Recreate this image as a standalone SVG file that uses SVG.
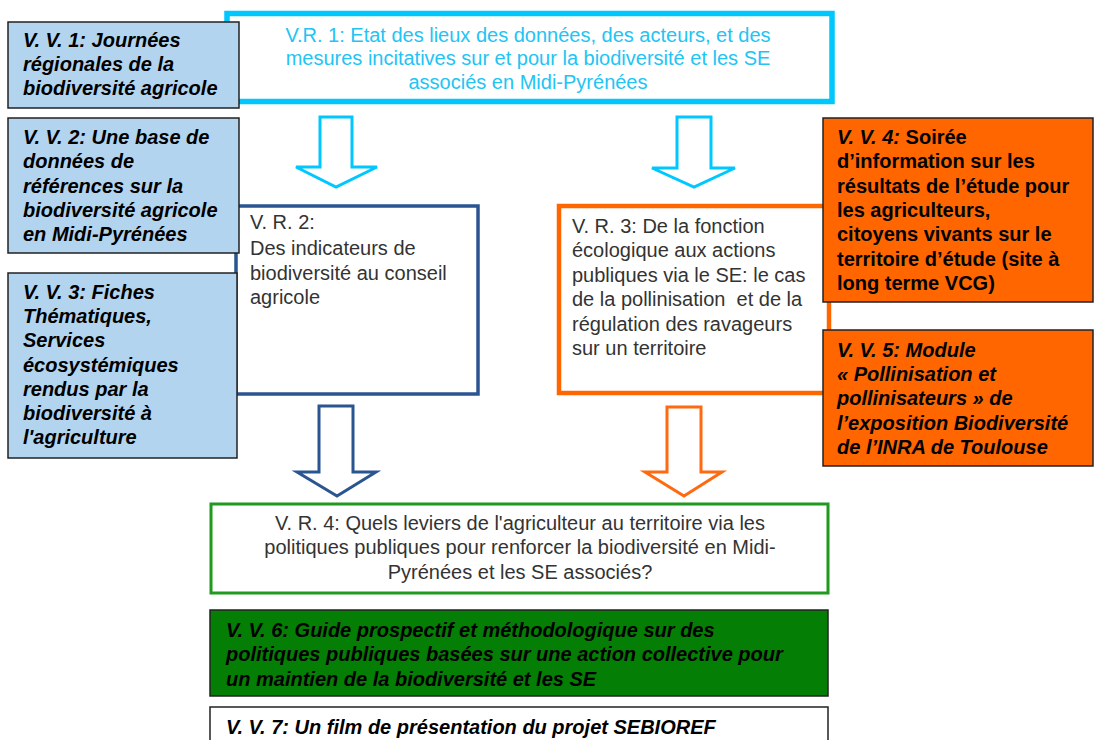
<svg xmlns="http://www.w3.org/2000/svg" width="1099" height="740" viewBox="0 0 1099 740">
<style>
text{font-family:"Liberation Sans",Arial,sans-serif;font-size:20px}
.vv{font-weight:bold;font-style:italic;fill:#000}
.vb{font-weight:bold;fill:#000}
.reg{fill:#333}
.cy{fill:#22C4F4}
.blue{fill:#B3D4EE;stroke:#222;stroke-width:1.5}
.orng{fill:#FF6600;stroke:#222;stroke-width:1.5}
.arr{fill:#fff;stroke-width:3;stroke-linejoin:miter}
</style>
<rect width="1099" height="740" fill="#fff"/>
<g id="connectors">
<path class="arr" stroke="#00C8FF" d="M320,117H352V167H377L336,187L296,167H320Z"/>
<path class="arr" stroke="#00C8FF" d="M677,117H711V168H735L694,187L652,168H677Z"/>
<path class="arr" stroke="#2B5590" d="M319,406H353V472H376L337,496L297,472H319Z"/>
<path class="arr" stroke="#FF6A10" d="M667,407H701V472H722L684,496L645,472H667Z"/>
</g>
<g id="vr1">
<rect x="227" y="13.5" width="605" height="88" fill="#fff" stroke="#00C8FF" stroke-width="5.5"/>
<text class="cy" text-anchor="middle"><tspan x="528" y="42">V.R. 1: Etat des lieux des données, des acteurs, et des</tspan><tspan x="528" y="65">mesures incitatives sur et pour la biodiversité et les SE</tspan><tspan x="528" y="89">associés en Midi-Pyrénées</tspan></text>
</g>
<g id="vr2">
<rect x="236" y="206" width="242" height="188" fill="#fff" stroke="#2B5590" stroke-width="3.5"/>
<text class="reg"><tspan x="250" y="229">V. R. 2:</tspan><tspan x="250" y="255">Des indicateurs de</tspan><tspan x="250" y="280">biodiversité au conseil</tspan><tspan x="250" y="304">agricole</tspan></text>
</g>
<g id="vr3">
<rect x="559" y="206" width="270" height="187" fill="#fff" stroke="#FF6600" stroke-width="4.5"/>
<text class="reg"><tspan x="572" y="233">V. R. 3: De la fonction</tspan><tspan x="572" y="257">écologique aux actions</tspan><tspan x="572" y="282">publiques via le SE: le cas</tspan><tspan x="572" y="306" xml:space="preserve">de la pollinisation  et de la</tspan><tspan x="572" y="331">régulation des ravageurs</tspan><tspan x="572" y="355">sur un territoire</tspan></text>
</g>
<g id="vv1">
<rect class="blue" x="8" y="22" width="231" height="86"/>
<text class="vv"><tspan x="23" y="47">V. V. 1: Journées</tspan><tspan x="23" y="71">régionales de la</tspan><tspan x="23" y="95">biodiversité agricole</tspan></text>
</g>
<g id="vv2">
<rect class="blue" x="8" y="118" width="231" height="135"/>
<text class="vv"><tspan x="23" y="144">V. V. 2: Une base de</tspan><tspan x="23" y="168">données de</tspan><tspan x="23" y="193">références sur la</tspan><tspan x="23" y="217">biodiversité agricole</tspan><tspan x="23" y="241">en Midi-Pyrénées</tspan></text>
</g>
<g id="vv3">
<rect class="blue" x="8" y="273" width="229" height="185"/>
<text class="vv"><tspan x="23" y="299">V. V. 3: Fiches</tspan><tspan x="23" y="323">Thématiques,</tspan><tspan x="23" y="347">Services</tspan><tspan x="23" y="372">écosystémiques</tspan><tspan x="23" y="396">rendus par la</tspan><tspan x="23" y="420">biodiversité à</tspan><tspan x="23" y="444">l'agriculture</tspan></text>
</g>
<g id="vv4">
<rect class="orng" x="823" y="118" width="270" height="184"/>
<text class="vb"><tspan x="837" y="144"><tspan font-style="italic">V. V. 4:</tspan> Soirée</tspan><tspan x="837" y="168">d’information sur les</tspan><tspan x="837" y="193">résultats de l’étude pour</tspan><tspan x="837" y="217">les agriculteurs,</tspan><tspan x="837" y="241">citoyens vivants sur le</tspan><tspan x="837" y="266">territoire d’étude (site à</tspan><tspan x="837" y="290">long terme VCG)</tspan></text>
</g>
<g id="vv5">
<rect class="orng" x="823" y="330" width="270" height="136"/>
<text class="vv"><tspan x="837" y="357">V. V. 5: Module</tspan><tspan x="837" y="381">« Pollinisation et</tspan><tspan x="837" y="405">pollinisateurs » de</tspan><tspan x="837" y="430">l’exposition Biodiversité</tspan><tspan x="837" y="454">de l’INRA de Toulouse</tspan></text>
</g>
<g id="vr4">
<rect x="211" y="504" width="617" height="89" fill="#fff" stroke="#1F9A1F" stroke-width="3"/>
<text class="reg" text-anchor="middle"><tspan x="520" y="530">V. R. 4: Quels leviers de l'agriculteur au territoire via les</tspan><tspan x="520" y="554">politiques publiques pour renforcer la biodiversité en Midi-</tspan><tspan x="520" y="579">Pyrénées et les SE associés?</tspan></text>
</g>
<g id="vv6">
<rect x="210" y="610" width="618" height="86" fill="#047E04" stroke="#222" stroke-width="1.5"/>
<text class="vv"><tspan x="226" y="637">V. V. 6: Guide prospectif et méthodologique sur des</tspan><tspan x="226" y="661">politiques publiques basées sur une action collective pour</tspan><tspan x="226" y="686">un maintien de la biodiversité et les SE</tspan></text>
</g>
<g id="vv7">
<rect x="210" y="707" width="618" height="40" fill="#fff" stroke="#222" stroke-width="1.5"/>
<text class="vv"><tspan x="226" y="734">V. V. 7: Un film de présentation du projet SEBIOREF</tspan></text>
</g>
</svg>
